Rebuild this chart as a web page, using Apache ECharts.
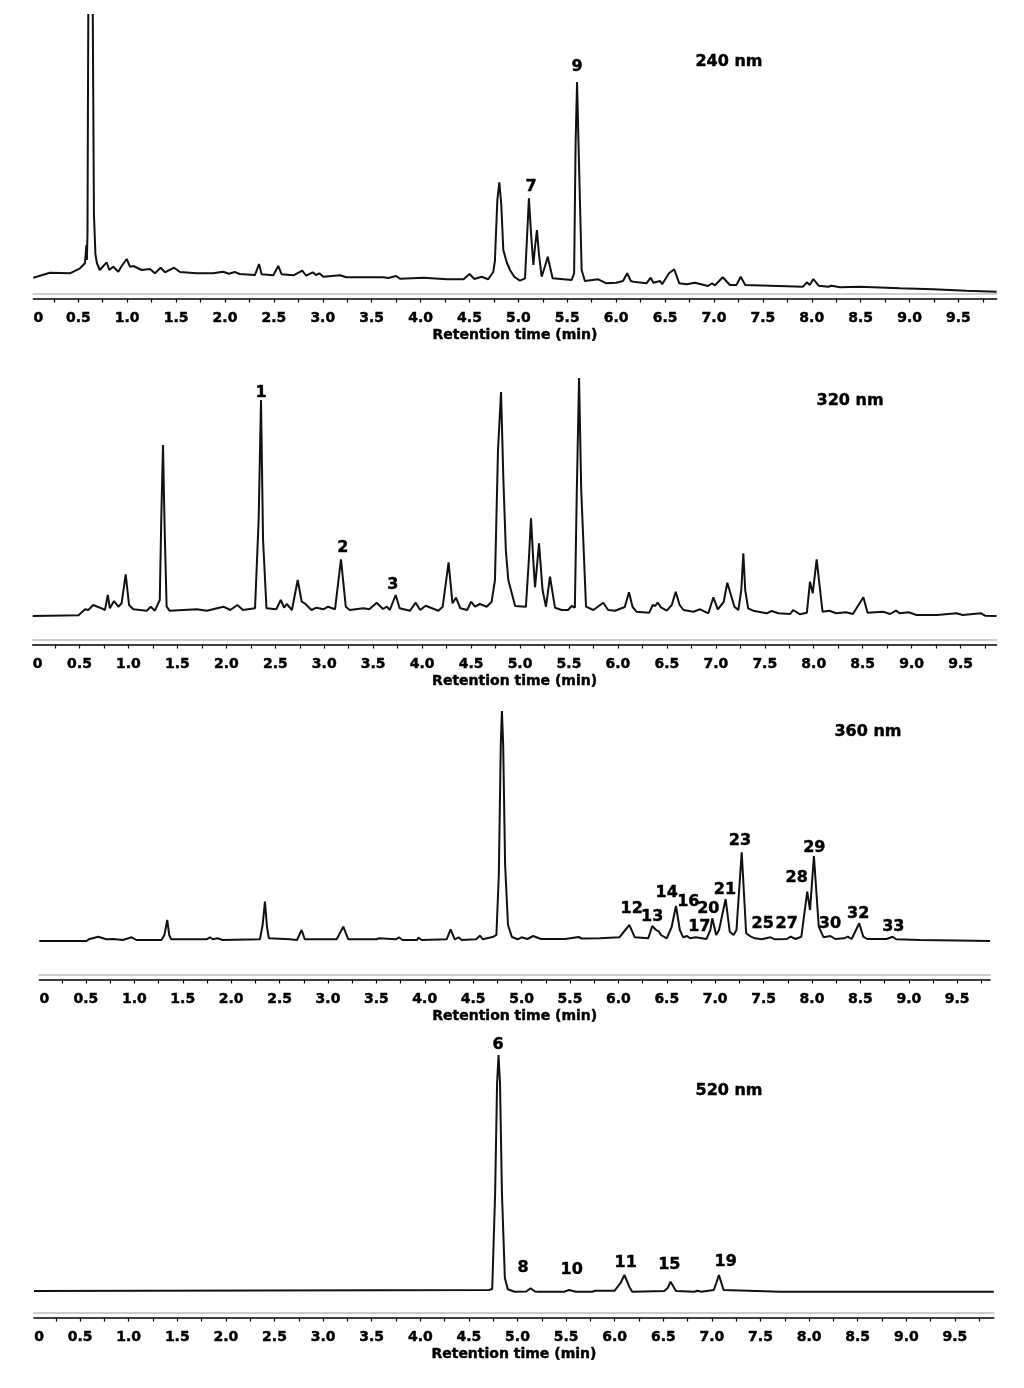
<!DOCTYPE html>
<html>
<head>
<meta charset="utf-8">
<script src="https://cdn.jsdelivr.net/npm/echarts@6/dist/echarts.min.js"></script>
<style>html,body{margin:0;padding:0;background:#fff}#c{width:1024px;height:1388px}</style>
</head>
<body>
<div id="c"></div>
<script>
// ---------------- DATA ----------------
const tickTimes = [0.25,0.5,0.75,1,1.25,1.5,1.75,2,2.25,2.5,2.75,3,3.25,3.5,3.75,4,4.25,4.5,4.75,5,5.25,5.5,5.75,6,6.25,6.5,6.75,7,7.25,7.5,7.75,8,8.25,8.5,8.75,9,9.25,9.5,9.75];
const labelTimes = [0,0.5,1,1.5,2,2.5,3,3.5,4,4.5,5,5.5,6,6.5,7,7.5,8,8.5,9,9.5];
const tickLabels = ['0','0.5','1.0','1.5','2.0','2.5','3.0','3.5','4.0','4.5','5.0','5.5','6.0','6.5','7.0','7.5','8.0','8.5','9.0','9.5'];
const axisTitle = 'Retention time (min)';
const wavelengths = ['240 nm','320 nm','360 nm','520 nm'];

// chromatogram traces: [retention time (min), absorbance (a.u.)]
const trace240 = [[0.04,16.3],[0.21,21.3],[0.415,20.7],[0.517,25.7],[0.568,30.7],[0.578,31],[0.583,49],[0.588,34],[0.594,60],[0.603,300],[0.625,360],[0.647,300],[0.66,80],[0.675,40],[0.69,31],[0.72,24],[0.79,31.7],[0.817,24],[0.858,27.3],[0.909,22.3],[0.944,28],[0.995,35],[1.029,27.3],[1.063,28],[1.148,24],[1.233,25],[1.284,20.7],[1.342,26.3],[1.387,21.7],[1.479,26.3],[1.54,22],[1.71,20.7],[1.88,20.7],[1.98,22.3],[2.04,20.3],[2.10,22],[2.15,20],[2.307,19],[2.348,30],[2.375,19.7],[2.494,18.7],[2.545,28],[2.58,19.7],[2.70,18.7],[2.79,23.3],[2.83,18.3],[2.897,21.7],[2.93,19],[2.965,20.7],[3.005,17.3],[3.176,18.7],[3.24,16.7],[3.62,16.7],[3.64,18.7],[3.67,16],[3.75,18],[3.79,15.3],[4.03,16.3],[4.27,14.7],[4.44,14.7],[4.50,20],[4.55,15],[4.625,17.3],[4.69,14.7],[4.743,22],[4.76,33],[4.785,94],[4.805,111.7],[4.825,90],[4.846,44],[4.88,32],[4.914,24],[4.96,17],[5.016,13.3],[5.068,15.7],[5.09,60],[5.108,95.7],[5.13,60],[5.153,29],[5.17,47],[5.19,64],[5.21,40],[5.238,17.3],[5.27,27],[5.30,37.3],[5.35,15.7],[5.545,14],[5.57,20.7],[5.585,150],[5.60,212],[5.615,150],[5.647,24],[5.68,13],[5.817,14.7],[5.90,10.7],[6.0,11.3],[6.07,13],[6.113,20.7],[6.15,13],[6.175,12.3],[6.31,10.7],[6.353,16.3],[6.38,11.3],[6.45,13],[6.47,9.7],[6.54,20.7],[6.594,24.7],[6.645,10.7],[6.72,9.7],[6.806,11.3],[6.94,8],[6.98,10.7],[7.01,8.7],[7.09,16.7],[7.163,9],[7.23,9],[7.273,17.3],[7.32,9],[7.573,8.3],[7.91,7.3],[7.95,11.7],[7.98,9],[8.016,15],[8.07,8.3],[8.17,7.3],[8.2,8.3],[8.29,6.7],[8.49,7.3],[8.9,5.7],[9.24,4.7],[9.58,3.3],[9.89,2.3]];

const trace320 = [[0.022,24],[0.49,24.7],[0.557,30.7],[0.59,30],[0.64,35],[0.71,32.3],[0.76,30],[0.789,45],[0.81,31.7],[0.853,39],[0.897,33.3],[0.93,36.7],[0.972,65.7],[1.006,35],[1.05,30.7],[1.187,29.3],[1.228,33.3],[1.27,29.3],[1.32,40],[1.335,120],[1.353,195],[1.37,110],[1.39,33.3],[1.42,29.3],[1.70,30.7],[1.80,29.3],[1.97,33.3],[2.04,30],[2.113,35],[2.17,30],[2.293,31.7],[2.33,120],[2.354,240],[2.375,100],[2.41,31.7],[2.51,30.7],[2.556,40],[2.59,32.3],[2.617,36],[2.67,30],[2.729,60],[2.77,38.3],[2.80,36.7],[2.87,30],[2.92,32.3],[2.99,30.7],[3.04,33.3],[3.11,30.7],[3.171,80.7],[3.22,33.3],[3.26,30],[3.40,31.7],[3.46,30.7],[3.536,37.3],[3.60,31],[3.64,33.3],[3.67,30],[3.73,45],[3.77,31.7],[3.876,29.3],[3.934,37.3],[3.98,30],[4.036,34.3],[4.166,29.3],[4.21,33.3],[4.27,77.7],[4.31,36.7],[4.346,42.3],[4.39,31.7],[4.46,30],[4.50,38.3],[4.54,33.3],[4.59,36],[4.66,33.3],[4.71,38.3],[4.744,60],[4.775,190],[4.806,248],[4.83,160],[4.855,90],[4.88,60],[4.95,34],[5.06,33.3],[5.09,80],[5.112,121.7],[5.135,80],[5.153,52.7],[5.194,96.7],[5.23,50],[5.265,33.3],[5.306,63.3],[5.357,32.3],[5.426,30],[5.49,30],[5.528,34],[5.56,32.3],[5.58,150],[5.603,262],[5.625,150],[5.674,33.3],[5.749,30],[5.85,37.3],[5.90,30],[5.97,29.3],[6.07,33],[6.113,47.7],[6.15,33],[6.19,28.3],[6.32,27.3],[6.356,35],[6.38,34],[6.406,37.3],[6.44,32.7],[6.498,29.3],[6.55,35],[6.59,48.3],[6.63,35],[6.67,30],[6.77,28.3],[6.84,30.7],[6.924,26.7],[6.975,42.7],[7.02,30.7],[7.08,38],[7.117,57.3],[7.19,33.3],[7.23,30],[7.26,50],[7.281,86.7],[7.30,50],[7.33,31.7],[7.38,29.3],[7.52,26.7],[7.57,29],[7.64,26.7],[7.76,26],[7.79,30],[7.86,25.7],[7.93,27.3],[7.962,58.3],[7.99,46.7],[8.03,80.7],[8.09,28.3],[8.16,29.3],[8.23,26.7],[8.33,27.7],[8.40,26],[8.507,42.7],[8.55,27.3],[8.71,28.3],[8.78,26],[8.84,29.3],[8.88,26.7],[8.97,27.7],[9.05,25],[9.26,25],[9.46,26.7],[9.52,25],[9.71,26.7],[9.75,24.3],[9.867,24]];

const trace360 = [[0.018,34],[0.507,34],[0.53,35.7],[0.627,38.3],[0.71,35.7],[0.78,36],[0.88,35],[0.972,37.7],[1.02,35],[1.28,35],[1.31,40],[1.34,55],[1.36,40],[1.38,35.7],[1.747,35.7],[1.78,37.7],[1.81,35.7],[1.86,36.7],[1.91,35],[2.297,35.7],[2.325,50],[2.349,73.3],[2.37,48],[2.39,36.7],[2.607,35.7],[2.68,35],[2.728,45],[2.76,35.7],[3.09,35.7],[3.158,48.3],[3.21,35.7],[3.50,35.7],[3.53,36.7],[3.70,35.7],[3.733,37.7],[3.77,35],[3.92,35],[3.933,37.3],[3.97,35],[4.226,35.7],[4.267,45.7],[4.31,35.7],[4.35,37.7],[4.38,35],[4.53,35.7],[4.57,39.3],[4.60,35.7],[4.71,38.3],[4.74,40],[4.765,100],[4.785,230],[4.797,264],[4.81,230],[4.83,110],[4.86,50],[4.90,38],[4.96,35.7],[5.0,37.7],[5.06,36],[5.12,39],[5.2,36],[5.45,36],[5.59,38],[5.62,36.5],[5.81,36.7],[6.01,37.7],[6.113,50],[6.17,37.7],[6.309,36.7],[6.35,49],[6.39,45],[6.42,43.3],[6.44,40],[6.46,41.7],[6.5,36.7],[6.55,48],[6.595,69],[6.635,45],[6.67,37.7],[6.71,39],[6.74,36.7],[6.80,37.7],[6.91,36],[6.95,45],[6.97,56.7],[7.01,40],[7.04,45],[7.108,76],[7.15,43.3],[7.19,40],[7.22,45],[7.274,122.7],[7.32,41.7],[7.37,38.3],[7.41,36.7],[7.48,35.7],[7.57,37.7],[7.62,35.7],[7.74,36],[7.78,38.3],[7.83,36],[7.89,38.3],[7.951,83.3],[7.98,65],[8.02,119],[8.07,48.3],[8.12,37.7],[8.19,39],[8.24,36],[8.33,36.7],[8.37,38.3],[8.41,36],[8.488,51.7],[8.53,38.3],[8.57,36],[8.77,36],[8.833,38.3],[8.87,35.7],[9.116,35],[9.5,34.5],[9.84,34]];

const trace520 = [[0.026,22],[4.706,23],[4.74,24],[4.77,120],[4.79,230],[4.805,258],[4.82,230],[4.84,120],[4.87,35],[4.90,23.7],[4.97,21.3],[5.09,21.5],[5.135,24.7],[5.18,21.5],[5.22,21.3],[5.48,21.3],[5.53,23],[5.60,21.3],[5.77,21.3],[5.80,22.3],[6.0,22.3],[6.06,30],[6.10,38],[6.15,26.3],[6.18,21.3],[6.51,22],[6.545,25],[6.575,31.3],[6.63,22],[6.82,21.3],[6.85,22.3],[6.89,21.3],[7.02,23],[7.045,30],[7.072,38],[7.12,23],[7.71,21.3],[9.90,21.3]];

// peak annotations: names, retention times and label heights
const peakNames240 = ['9','7'];
const peakTimes240 = [5.60,5.129];
const peakLabelY240 = [227,107];
const peakNames320 = ['1','2','3'];
const peakTimes320 = [2.354,3.19,3.70];
const peakLabelY320 = [247,92,55];
const peakNames360 = ['12','13','14','16','17','20','21','23','25','27','28','29','30','32','33'];
const peakTimes360 = [6.137,6.35,6.499,6.722,6.836,6.929,7.101,7.256,7.491,7.739,7.842,8.024,8.186,8.478,8.84];
const peakLabelY360 = [65.7,58.3,82.3,73.3,47.7,65.7,85,134.3,50.7,50.7,96.7,126.7,51,60.7,48.3];
const peakNames520 = ['6','8','10','11','15','19'];
const peakTimes520 = [4.80,5.057,5.558,6.113,6.562,7.142];
const peakLabelY520 = [268,45,43,50,48,51];
// wavelength tag anchor (time, height)
const waveTagTime = [7.153,8.371,8.578,7.176];
const waveTagY = [232,239,243,222];

// ---------------- LAYOUT ----------------
const FONT = 'DejaVu Sans';
const panels = [
  {left:33.3, right:27.4, top:15,   height:279, xMin:0.04,  xMax:9.89,  yMax:279, trace:trace240, pn:peakNames240, pt:peakTimes240, py:peakLabelY240},
  {left:32.7, right:27.5, top:370,  height:270, xMin:0.022, xMax:9.867, yMax:270, trace:trace320, pn:peakNames320, pt:peakTimes320, py:peakLabelY320},
  {left:39.3, right:33.9, top:700,  height:275, xMin:0.018, xMax:9.84,  yMax:275, trace:trace360, pn:peakNames360, pt:peakTimes360, py:peakLabelY360},
  {left:34.0, right:30.2, top:1030, height:283, xMin:0.026, xMax:9.90,  yMax:283, trace:trace520, pn:peakNames520, pt:peakTimes520, py:peakLabelY520}
];
const boldText = {fontFamily:FONT, fontWeight:'bold', color:'#000', textBorderColor:'#000', textBorderWidth:0.45};

const grid = [], xAxis = [], yAxis = [], series = [];
panels.forEach((p, i) => {
  grid.push({left:p.left, right:p.right, top:p.top, height:p.height, containLabel:false});
  // grey rule at the bottom of the plot area
  xAxis.push({gridIndex:i, type:'value', min:p.xMin, max:p.xMax, position:'bottom',
    axisLine:{show:true, onZero:false, lineStyle:{color:'#cdcdcd', width:2}},
    axisTick:{show:false}, axisLabel:{show:false}, splitLine:{show:false}});
  // black time axis
  const labVals = labelTimes.map(t => t === 0 ? p.xMin : t);
  xAxis.push({gridIndex:i, type:'value', min:p.xMin, max:p.xMax, position:'bottom', offset:4.5,
    axisLine:{show:true, onZero:false, lineStyle:{color:'#000', width:1.5}},
    axisTick:{show:true, inside:false, length:4, customValues:tickTimes, lineStyle:{color:'#000', width:1.2}},
    axisLabel:Object.assign({show:true, customValues:labVals, margin:13, fontSize:14,
      formatter:(v) => {
        let best = 0;
        labelTimes.forEach((t, k) => { if (Math.abs(t - v) < Math.abs(labelTimes[best] - v)) best = k; });
        return best === 0 ? '{z|' + tickLabels[0] + '}' : tickLabels[best];
      },
      rich:{z:Object.assign({padding:[0,0,0,10], fontSize:14}, boldText)}}, boldText),
    splitLine:{show:false},
    name:axisTitle, nameLocation:'middle', nameGap:30,
    nameTextStyle:Object.assign({fontSize:14}, boldText)});
  yAxis.push({gridIndex:i, type:'value', min:0, max:p.yMax, show:false});
  series.push({type:'line', xAxisIndex:2*i, yAxisIndex:i, data:p.trace, showSymbol:false, symbol:'none',
    clip:true, lineStyle:{color:'#111', width:2}, animation:false, z:2});
  const labs = p.pn.map((n, k) => ({name:n, value:[p.pt[k], p.py[k]]}));
  labs.push({name:wavelengths[i], value:[waveTagTime[i], waveTagY[i]]});
  series.push({type:'scatter', xAxisIndex:2*i, yAxisIndex:i, data:labs, symbol:'circle', symbolSize:1,
    itemStyle:{color:'rgba(0,0,0,0)', opacity:1}, animation:false, z:5, clip:false, silent:true,
    label:Object.assign({show:true, position:'inside', formatter:'{b}', fontSize:16, opacity:1}, boldText)});
});

const chart = echarts.init(document.getElementById('c'), null, {renderer:'canvas'});
chart.setOption({backgroundColor:'#fff', animation:false, grid, xAxis, yAxis, series});
</script>
</body>
</html>
